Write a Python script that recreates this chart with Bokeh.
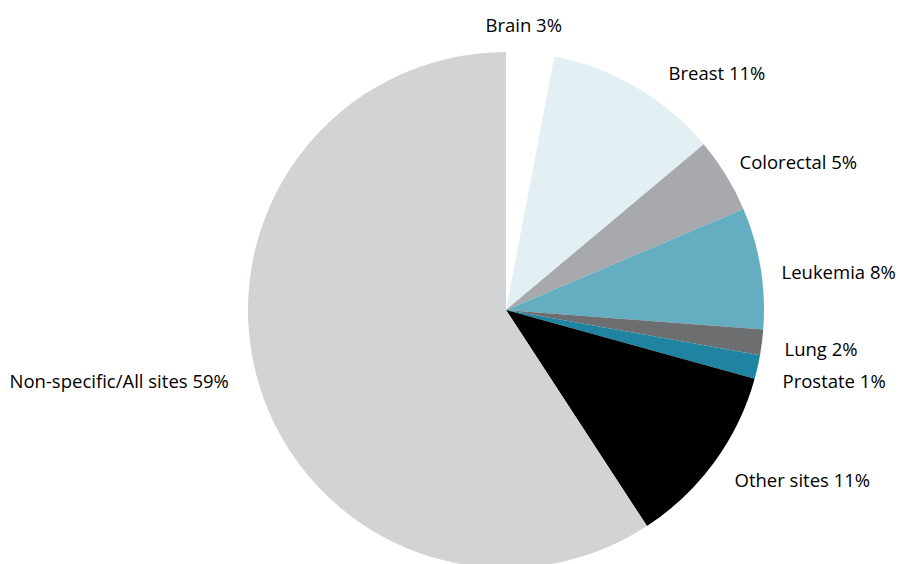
import math
from bokeh.plotting import figure
from bokeh.models import Range1d, ColumnDataSource
from bokeh.core.properties import value
from bokeh.embed import file_html
from bokeh.resources import INLINE

# Data (slice shares; labels as printed)
categories = ["Brain", "Breast", "Colorectal", "Leukemia", "Lung", "Prostate",
              "Other sites", "Non-specific/All sites"]
shares = [3.0, 10.9, 4.7, 7.6, 1.6, 1.5, 11.5, 59.2]
label_pcts = ["3%", "11%", "5%", "8%", "2%", "1%", "11%", "59%"]
colors = ["#ffffff", "#e2eff3", "#a7a9ac", "#65aec2", "#6d6e70", "#1f84a2",
          "#000000", "#d1d3d4"]

# Layout (image pixel coordinates of label anchors: left x, vertical middle y)
CX, CY, R = 505.5, 309.5, 258.0
label_x = [485, 668, 739, 781, 784, 782, 734, 9]
label_y = [24, 72, 161, 271, 348, 380, 479, 380]

W, H = 900, 564
OX, OY = 0, 0  # page origin of the figure
total = sum(shares)
starts, ends = [], []
cum = 0.0
for s in shares:
    starts.append(math.pi / 2 - 2 * math.pi * cum / total)
    cum += s
    ends.append(math.pi / 2 - 2 * math.pi * cum / total)

src = ColumnDataSource(dict(start=starts, end=ends, color=colors, cat=categories))

p = figure(width=W, height=H, output_backend="svg", toolbar_location=None,
           x_range=Range1d(OX - CX, OX + W - CX), y_range=Range1d(CY - (OY + H), CY - OY),
           min_border=0, outline_line_color=None)
p.axis.visible = False
p.grid.visible = False
p.background_fill_color = "white"
p.border_fill_color = "white"

p.wedge(x=0, y=0, radius=R, start_angle="start", end_angle="end", direction="clock",
        fill_color="color", line_color=None, source=src)

texts = [f"{c} {pc}" for c, pc in zip(categories, label_pcts)]
lsrc = ColumnDataSource(dict(x=[lx - CX for lx in label_x],
                             y=[CY - ly for ly in label_y], t=texts))
p.text(x="x", y="y", text="t", source=lsrc, text_font=value("Open Sans"),
       text_font_size="18.5px", text_color="#000000", text_align="left",
       text_baseline="middle")

open("out.html", "w").write(file_html(p, INLINE))
